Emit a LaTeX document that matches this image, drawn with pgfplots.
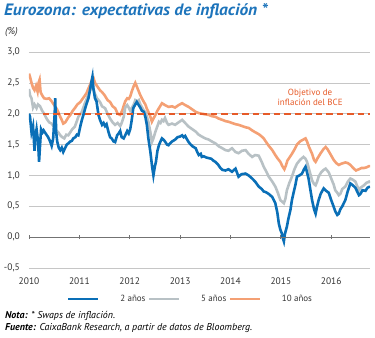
\documentclass[border=0pt]{standalone}
\usepackage{fontspec}
\setmainfont{PT Sans}
\usepackage{pgfplots}
\pgfplotsset{compat=1.18}
\usepackage{pgfplotstable}
\definecolor{cbblue}{HTML}{0A6FB7}
\definecolor{cbgray}{HTML}{B8C1C5}
\definecolor{cborange}{HTML}{F4A074}
\definecolor{cbred}{HTML}{E65A28}
\definecolor{titleblue}{HTML}{1D74BB}
\definecolor{txt}{HTML}{333333}
\definecolor{gridc}{HTML}{C6C6C6}

\pgfplotstableread{
x y
2010.00 2.00
2010.02 1.95
2010.05 1.70
2010.08 1.80
2010.11 1.40
2010.13 1.65
2010.15 1.75
2010.18 1.55
2010.20 1.22
2010.22 1.50
2010.24 1.75
2010.27 1.70
2010.29 1.73
2010.33 1.68
2010.38 1.62
2010.42 1.55
2010.45 1.48
2010.48 1.60
2010.51 2.00
2010.52 2.25
2010.54 1.70
2010.56 1.55
2010.59 1.45
2010.62 1.41
2010.65 1.45
2010.68 1.38
2010.72 1.45
2010.75 1.50
2010.78 1.52
2010.82 1.55
2010.85 1.56
2010.88 1.60
2010.92 1.62
2010.95 1.66
2010.98 1.65
2011.02 1.80
2011.05 1.90
2011.08 1.98
2011.12 2.10
2011.15 2.18
2011.18 2.25
2011.21 2.38
2011.24 2.52
2011.26 2.60
2011.28 2.40
2011.31 2.25
2011.34 2.20
2011.38 1.98
2011.41 1.90
2011.45 1.82
2011.48 1.85
2011.51 1.80
2011.54 1.83
2011.58 1.70
2011.61 1.62
2011.64 1.60
2011.68 1.55
2011.71 1.54
2011.75 1.65
2011.78 1.68
2011.81 1.72
2011.84 1.62
2011.88 1.60
2011.91 1.65
2011.95 1.72
2011.98 1.68
2012.01 1.75
2012.04 1.90
2012.07 2.09
2012.11 2.15
2012.14 2.19
2012.17 2.15
2012.21 2.10
2012.24 2.05
2012.28 2.03
2012.31 1.95
2012.34 1.82
2012.37 1.60
2012.41 1.38
2012.44 1.17
2012.47 1.00
2012.50 1.15
2012.52 1.22
2012.55 1.40
2012.58 1.49
2012.61 1.55
2012.64 1.60
2012.67 1.58
2012.70 1.55
2012.74 1.50
2012.77 1.49
2012.80 1.52
2012.84 1.55
2012.90 1.58
2012.95 1.62
2013.00 1.63
2013.04 1.65
2013.07 1.62
2013.10 1.64
2013.14 1.58
2013.17 1.54
2013.21 1.50
2013.25 1.47
2013.31 1.44
2013.34 1.38
2013.37 1.33
2013.41 1.35
2013.43 1.30
2013.47 1.31
2013.52 1.29
2013.57 1.28
2013.62 1.27
2013.66 1.24
2013.70 1.22
2013.75 1.18
2013.80 1.12
2013.84 1.09
2013.90 1.08
2013.96 1.10
2014.03 1.06
2014.10 1.11
2014.16 0.98
2014.22 1.02
2014.30 1.03
2014.36 1.00
2014.43 0.95
2014.49 0.90
2014.56 0.82
2014.62 0.78
2014.66 0.74
2014.70 0.73
2014.76 0.70
2014.83 0.65
2014.89 0.55
2014.93 0.40
2014.96 0.22
2014.99 0.12
2015.02 0.06
2015.04 -0.02
2015.06 -0.07
2015.08 0.05
2015.12 0.17
2015.15 0.30
2015.19 0.44
2015.22 0.60
2015.25 0.71
2015.29 0.85
2015.32 0.98
2015.37 1.00
2015.42 1.03
2015.46 1.10
2015.49 1.14
2015.52 1.05
2015.55 0.95
2015.59 0.75
2015.62 0.60
2015.66 0.45
2015.69 0.38
2015.72 0.50
2015.75 0.60
2015.79 0.70
2015.85 0.79
2015.90 0.75
2015.95 0.72
2016.00 0.60
2016.05 0.49
2016.08 0.42
2016.12 0.36
2016.15 0.38
2016.18 0.45
2016.22 0.50
2016.28 0.60
2016.33 0.75
2016.38 0.87
2016.43 0.84
2016.48 0.80
2016.55 0.68
2016.58 0.70
2016.62 0.76
2016.68 0.75
2016.72 0.80
2016.77 0.82
}\dosanos

\pgfplotstableread{
x y
2010.00 2.40
2010.02 2.30
2010.05 2.25
2010.08 2.10
2010.11 2.15
2010.15 2.09
2010.18 2.15
2010.22 2.12
2010.26 2.05
2010.30 2.00
2010.35 1.92
2010.40 1.86
2010.45 1.84
2010.50 1.78
2010.55 1.72
2010.58 1.70
2010.62 1.65
2010.66 1.62
2010.70 1.60
2010.74 1.66
2010.78 1.65
2010.82 1.70
2010.86 1.75
2010.91 1.79
2010.95 1.88
2010.98 1.95
2011.05 2.03
2011.10 2.15
2011.15 2.25
2011.20 2.35
2011.25 2.46
2011.28 2.40
2011.31 2.32
2011.35 2.25
2011.41 2.19
2011.45 2.12
2011.51 2.09
2011.56 2.00
2011.61 1.92
2011.66 1.86
2011.71 1.82
2011.76 1.85
2011.81 1.80
2011.84 1.85
2011.88 1.95
2011.91 2.10
2011.95 2.14
2011.98 2.10
2012.01 2.05
2012.04 2.09
2012.08 2.15
2012.11 2.22
2012.15 2.20
2012.18 2.22
2012.21 2.15
2012.24 2.11
2012.28 2.05
2012.31 2.03
2012.34 1.95
2012.37 1.87
2012.41 1.70
2012.44 1.54
2012.47 1.60
2012.51 1.71
2012.55 1.80
2012.58 1.87
2012.61 1.85
2012.64 1.90
2012.67 1.88
2012.70 1.93
2012.74 1.85
2012.77 1.82
2012.84 1.84
2012.90 1.82
2012.97 1.86
2013.04 1.90
2013.10 1.85
2013.17 1.79
2013.24 1.75
2013.31 1.71
2013.37 1.66
2013.43 1.63
2013.50 1.60
2013.57 1.58
2013.63 1.55
2013.70 1.52
2013.77 1.47
2013.84 1.44
2013.90 1.41
2013.96 1.40
2014.03 1.44
2014.10 1.38
2014.16 1.36
2014.23 1.40
2014.30 1.41
2014.36 1.35
2014.43 1.30
2014.49 1.33
2014.56 1.32
2014.62 1.22
2014.66 1.14
2014.70 1.08
2014.76 0.98
2014.83 0.90
2014.89 0.82
2014.94 0.72
2014.99 0.60
2015.06 0.55
2015.09 0.62
2015.12 0.76
2015.17 0.88
2015.22 0.98
2015.27 1.10
2015.32 1.19
2015.38 1.25
2015.42 1.28
2015.45 1.30
2015.49 1.27
2015.52 1.22
2015.56 1.10
2015.62 0.92
2015.66 0.86
2015.69 0.84
2015.72 0.90
2015.75 0.98
2015.80 1.05
2015.85 1.09
2015.89 1.11
2015.95 1.05
2016.00 0.95
2016.05 0.85
2016.08 0.76
2016.12 0.72
2016.15 0.68
2016.18 0.70
2016.22 0.78
2016.28 0.82
2016.33 0.90
2016.38 0.95
2016.43 0.93
2016.48 0.90
2016.55 0.76
2016.58 0.80
2016.65 0.84
2016.70 0.88
2016.75 0.90
2016.77 0.88
}\cincoanos

\pgfplotstableread{
x y
2010.00 2.65
2010.02 2.60
2010.05 2.50
2010.08 2.42
2010.11 2.38
2010.14 2.45
2010.17 2.36
2010.19 2.50
2010.21 2.55
2010.23 2.35
2010.26 2.30
2010.30 2.25
2010.35 2.24
2010.40 2.25
2010.45 2.20
2010.50 2.14
2010.55 2.08
2010.58 2.03
2010.62 1.95
2010.65 1.90
2010.68 1.84
2010.72 1.86
2010.75 1.90
2010.78 1.94
2010.82 1.98
2010.87 2.05
2010.91 2.09
2010.96 2.15
2011.02 2.19
2011.08 2.26
2011.14 2.33
2011.18 2.41
2011.22 2.48
2011.25 2.55
2011.28 2.58
2011.31 2.50
2011.35 2.45
2011.41 2.38
2011.45 2.35
2011.50 2.30
2011.56 2.22
2011.61 2.19
2011.66 2.12
2011.71 2.09
2011.76 2.00
2011.81 1.98
2011.85 2.05
2011.91 2.20
2011.95 2.25
2011.98 2.24
2012.01 2.28
2012.04 2.36
2012.08 2.45
2012.11 2.50
2012.14 2.44
2012.17 2.38
2012.21 2.30
2012.24 2.25
2012.28 2.19
2012.31 2.15
2012.34 2.08
2012.37 2.03
2012.41 1.95
2012.44 1.87
2012.47 1.92
2012.51 1.98
2012.55 2.05
2012.58 2.09
2012.64 2.17
2012.70 2.14
2012.77 2.11
2012.84 2.12
2012.90 2.10
2012.97 2.14
2013.04 2.17
2013.10 2.14
2013.17 2.11
2013.24 2.07
2013.31 2.03
2013.37 2.01
2013.43 2.00
2013.50 1.99
2013.57 1.98
2013.63 1.96
2013.70 1.95
2013.77 1.92
2013.84 1.90
2013.90 1.88
2013.96 1.87
2014.03 1.85
2014.10 1.83
2014.16 1.82
2014.23 1.80
2014.30 1.78
2014.36 1.77
2014.43 1.73
2014.49 1.70
2014.56 1.67
2014.62 1.63
2014.66 1.60
2014.70 1.55
2014.76 1.48
2014.83 1.41
2014.89 1.33
2014.94 1.27
2014.99 1.22
2015.03 1.15
2015.07 1.10
2015.10 1.16
2015.13 1.24
2015.18 1.30
2015.22 1.35
2015.27 1.42
2015.32 1.50
2015.38 1.55
2015.42 1.57
2015.49 1.60
2015.52 1.55
2015.56 1.46
2015.62 1.35
2015.66 1.25
2015.69 1.22
2015.73 1.28
2015.79 1.36
2015.85 1.43
2015.89 1.46
2015.93 1.42
2015.98 1.35
2016.05 1.25
2016.10 1.20
2016.15 1.17
2016.20 1.19
2016.28 1.21
2016.33 1.20
2016.38 1.17
2016.45 1.11
2016.49 1.08
2016.55 1.10
2016.60 1.12
2016.65 1.12
2016.70 1.13
2016.75 1.15
2016.77 1.15
}\diezanos

\begin{document}
\begin{tikzpicture}
\path[use as bounding box] (0,0) rectangle (375bp,338bp);
\node[anchor=base west, inner sep=0, font=\fontsize{16.5}{18}\selectfont\bfseries\itshape, text=titleblue] at (4bp,322bp) {\scalebox{1.06}[1]{Eurozona: expectativas de inflación *}};
\node[anchor=base west, inner sep=0, font=\fontsize{10}{12}\selectfont\itshape, text=txt] at (5bp,303bp) {(\%)};
\node[anchor=base west, inner sep=0, font=\fontsize{10}{11}\selectfont\itshape, text=black] at (5bp,20bp) {\textbf{Nota:} * Swaps de inflación.};
\node[anchor=base west, inner sep=0, font=\fontsize{10}{11}\selectfont\itshape, text=black] at (5bp,7.5bp) {\textbf{Fuente:} CaixaBank Research, a partir de datos de Bloomberg.};

\begin{axis}[
  at={(29bp,70bp)}, anchor=south west, scale only axis,
  width=341bp, height=216bp,
  xmin=2010, xmax=2016.77, ymin=-0.5, ymax=3.0,
  xtick={2010,2011,2012,2013,2014,2015,2016},
  xticklabels={2010,2011,2012,2013,2014,2015,2016},
  ytick={-0.5,0,0.5,1,1.5,2,2.5,3},
  yticklabels={{-0,5},{0,0},{0,5},{1,0},{1,5},{2,0},{2,5},{3,0}},
  axis line style={draw=none},
  major tick length=0pt,
  ymajorgrids, grid style={gridc, line width=0.7bp},
  tick label style={font=\fontsize{9.5}{11}\selectfont, text=txt},
  yticklabel style={inner sep=0pt, anchor=east, xshift=-9bp},
  xticklabel style={inner sep=0pt, anchor=north, yshift=-10bp},
  legend style={at={(0.11,-0.1435)}, anchor=west, draw=none, fill=none, inner sep=0pt,
    font=\fontsize{9}{10}\selectfont, text=txt,
    /tikz/every odd column/.append style={column sep=19bp}},
  legend columns=3,
  legend image code/.code={\draw[#1, line width=2.6bp] (0bp,0bp) -- (30bp,0bp);},
]
\addlegendimage{cbblue}\addlegendentry{2 años}
\addlegendimage{cbgray}\addlegendentry{5 años}
\addlegendimage{cborange}\addlegendentry{10 años}
\addplot[cborange, line width=2.6bp, forget plot] table {\diezanos};
\addplot[cbgray, line width=2.6bp, forget plot] table {\cincoanos};
\addplot[cbblue, line width=2.6bp, forget plot] table {\dosanos};
\addplot[cbred, line width=1.7bp, dash pattern=on 6.5bp off 4bp, forget plot] coordinates {(2010.27,2) (2016.77,2)};
\node[text=cbred, font=\fontsize{9}{10}\selectfont, align=center] at (axis cs:2015.58,2.27) {Objetivo de\\inflación del BCE};
\end{axis}

\begin{axis}[
  at={(29bp,70bp)}, anchor=south west, scale only axis,
  width=341bp, height=216bp,
  xmin=2010, xmax=2016.77, ymin=-0.5, ymax=3.0,
  axis x line=middle, axis y line=none,
  axis line style={-, draw=black!55, line width=0.8bp},
  xtick={2010,2011,2012,2013,2014,2015,2016}, xticklabels={},
  tick align=center, major tick length=4bp,
  xtick style={draw=black!55, line width=0.8bp},
]
\end{axis}
\end{tikzpicture}
\end{document}
